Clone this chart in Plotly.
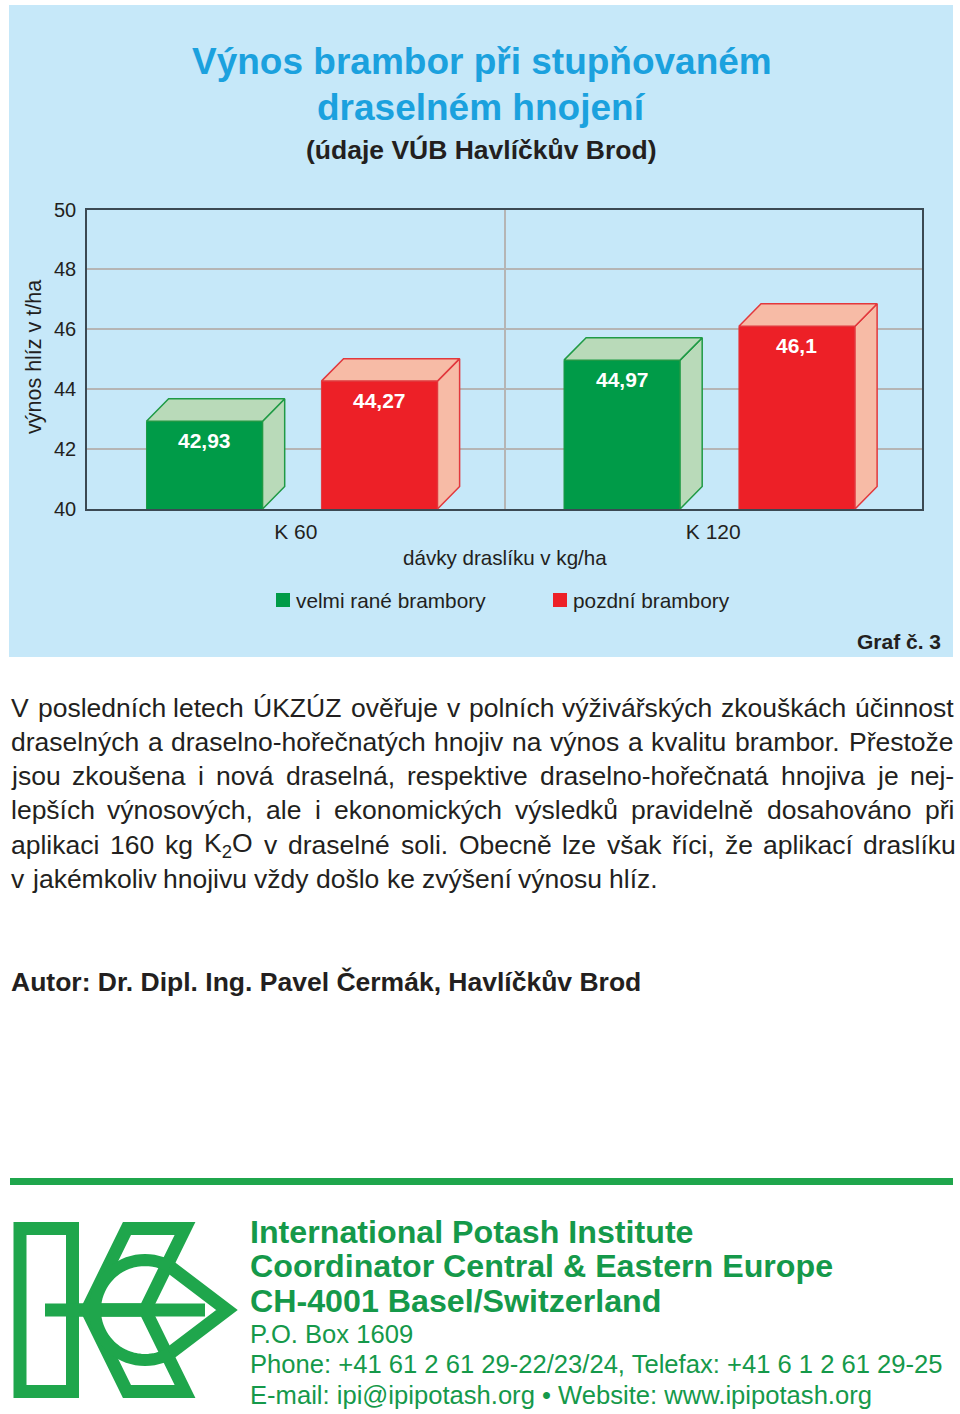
import math
import re
import unicodedata
import plotly.graph_objects as go

# ---------------- data ----------------
categories = ["K 60", "K 120"]
series_names = ["velmi rané brambory", "pozdní brambory"]
early_values = [42.93, 44.97]
late_values = [44.27, 46.1]
y_tick_values = [40, 42, 44, 46, 48, 50]

title_lines = ["Výnos brambor při stupňovaném", "draselném hnojení"]
subtitle = "(údaje VÚB Havlíčkův Brod)"
y_title = "výnos hlíz v t/ha"
x_title = "dávky draslíku v kg/ha"
graph_no = "Graf č. 3"
body_lines = [
    "V posledních letech ÚKZÚZ ověřuje v polních výživářských zkouškách účinnost",
    "draselných a draselno-hořečnatých hnojiv na výnos a kvalitu brambor. Přestože",
    "jsou zkoušena i nová draselná, respektive draselno-hořečnatá hnojiva je nej-",
    "lepších výnosových, ale i ekonomických výsledků pravidelně dosahováno při",
    "aplikaci 160 kg K<sub>2</sub>O v draselné soli. Obecně lze však říci, že aplikací draslíku",
    "v jakémkoliv hnojivu vždy došlo ke zvýšení výnosu hlíz.",
]
author = "Autor: Dr. Dipl. Ing. Pavel Čermák, Havlíčkův Brod"
footer_bold = [
    "International Potash Institute",
    "Coordinator Central & Eastern Europe",
    "CH-4001 Basel/Switzerland",
]
footer_regular = [
    "P.O. Box 1609",
    "Phone: +41 61 2 61 29-22/23/24, Telefax: +41 6 1 2 61 29-25",
    "E-mail: ipi@ipipotash.org • Website: www.ipipotash.org",
]

# ---------------- style ----------------
W, H = 960, 1414
FONT = "Liberation Sans, Arial, Helvetica, sans-serif"
DARK = "#231f20"
BLUE_BG = "#c6e8f9"
TITLE_BLUE = "#1ba1de"
GREEN = "#009b48"
GREEN_LIGHT = "#b9dab9"
GREEN_EDGE = "#1f9a45"
RED = "#ed2027"
RED_LIGHT = "#f7bba6"
RED_EDGE = "#e2383d"
LOGO_GREEN = "#1fa64c"
TEXT_GREEN = "#15994a"
GRID = "#b5b5b5"
FRAME = "#3b4953"

PL, PR, PT, PB = 87, 922, 209.5, 509  # plot area in pixels


def px(x):
    return x / W


def py(y):
    return 1 - y / H


bar_w = 0.278
inner_gap = 0.141
shift = -0.009
depth_x = 0.053
depth_y = 0.75
y_min, y_max = y_tick_values[0], y_tick_values[-1]
offsets = [-(bar_w + inner_gap / 2) + shift, inner_gap / 2 + shift]
fronts = [GREEN, RED]
lights = [GREEN_LIGHT, RED_LIGHT]
edges = [GREEN_EDGE, RED_EDGE]
all_values = [early_values, late_values]
xpos = list(range(len(categories)))

fig = go.Figure()
annotations = []
shapes = []

for s, vals in enumerate(all_values):
    fig.add_trace(go.Bar(
        x=xpos, y=vals, width=bar_w, offset=offsets[s], name=series_names[s],
        marker=dict(color=fronts[s], line=dict(color=edges[s], width=1)),
        showlegend=False, hoverinfo="y",
    ))
    sx, sy, tx, ty = [], [], [], []
    for j, v in enumerate(vals):
        xl = xpos[j] + offsets[s]
        xr = xl + bar_w
        sx += [xr, xr + depth_x, xr + depth_x, xr, xr, None]
        sy += [y_min, y_min + depth_y, v + depth_y, v, y_min, None]
        tx += [xl, xl + depth_x, xr + depth_x, xr, xl, None]
        ty += [v, v + depth_y, v + depth_y, v, v, None]
        annotations.append(dict(
            x=xl + bar_w / 2, y=v, xref="x", yref="y", yanchor="top", yshift=-6,
            text=f"{v:g}".replace(".", ","), showarrow=False,
            font=dict(family=FONT, size=21, color="white", weight="bold"),
        ))
    for fx, fy in ((sx, sy), (tx, ty)):
        fig.add_trace(go.Scatter(
            x=fx, y=fy, mode="lines", fill="toself", fillcolor=lights[s],
            line=dict(color=edges[s], width=1.5), showlegend=False, hoverinfo="skip",
        ))

# ---------------- text helpers ----------------
HELV = {
    'a': 556, 'b': 556, 'c': 500, 'd': 556, 'e': 556, 'f': 278, 'g': 556, 'h': 556,
    'i': 222, 'j': 222, 'k': 500, 'l': 222, 'm': 833, 'n': 556, 'o': 556, 'p': 556,
    'q': 556, 'r': 333, 's': 500, 't': 278, 'u': 556, 'v': 500, 'w': 722, 'x': 500,
    'y': 500, 'z': 500,
    'A': 667, 'B': 667, 'C': 722, 'D': 722, 'E': 667, 'F': 611, 'G': 778, 'H': 722,
    'I': 278, 'J': 500, 'K': 667, 'L': 556, 'M': 833, 'N': 722, 'O': 778, 'P': 667,
    'Q': 778, 'R': 722, 'S': 667, 'T': 611, 'U': 722, 'V': 667, 'W': 944, 'X': 667,
    'Y': 667, 'Z': 611,
    ' ': 278, '.': 278, ',': 278, '-': 333, ':': 278, '/': 278, '(': 333, ')': 333,
}


def char_w(ch):
    if ch in HELV:
        return HELV[ch]
    if ch.isdigit():
        return 556
    base = unicodedata.normalize("NFD", ch)[0]
    return HELV.get(base, 556)


def word_width(word, size):
    total = 0.0
    for part in re.split(r"(<sub>.*?</sub>)", word):
        if part.startswith("<sub>"):
            total += sum(char_w(c) for c in part[5:-6]) * 0.7
        else:
            total += sum(char_w(c) for c in part)
    return total * size / 1000


def text(x, y, t, size, color=DARK, bold=False, xanchor="center", angle=0):
    annotations.append(dict(
        x=px(x), y=py(y), xref="paper", yref="paper", text=t, showarrow=False,
        xanchor=xanchor, yanchor="middle", textangle=angle, borderpad=0,
        font=dict(family=FONT, size=size, color=color, weight="bold" if bold else "normal"),
    ))


# ---------------- titles and chart texts ----------------
text(482, 62, title_lines[0], 37, TITLE_BLUE, True)
text(481, 108, title_lines[1], 37, TITLE_BLUE, True)
text(481, 150, subtitle, 26.5, DARK, True)
text(34, 357, y_title, 21.5, angle=-90)
text(505, 557, x_title, 20.6)
text(942, 641, graph_no, 21, DARK, True, xanchor="right")

# custom legend
legend_items = [(276, 295), (553, 572)]
for s, (sq, tx0) in enumerate(legend_items):
    shapes.append(dict(type="rect", xref="paper", yref="paper", x0=px(sq), x1=px(sq + 14),
                       y0=py(607), y1=py(593), fillcolor=fronts[s], line=dict(width=0)))
    text(tx0, 600, series_names[s], 20.8, xanchor="left")

# ---------------- body text (justified) ----------------
BODY_SIZE = 26.5
L_EDGE, R_EDGE = 10, 953
body_y = [708, 742, 776, 810, 845, 879]
for li, line in enumerate(body_lines):
    words = line.split(" ")
    widths = [word_width(w, BODY_SIZE) for w in words]
    if li < len(body_lines) - 1 and len(words) > 1:
        gap = (R_EDGE - L_EDGE - sum(widths)) / (len(words) - 1)
    else:
        gap = 278 * BODY_SIZE / 1000
    xcur = L_EDGE
    for w, wd in zip(words, widths):
        text(xcur, body_y[li], w, BODY_SIZE, xanchor="left")
        xcur += wd + gap

text(10, 982, author, 26.5, DARK, True, xanchor="left")

# ---------------- footer ----------------
shapes.append(dict(type="rect", xref="paper", yref="paper", x0=px(10), x1=px(953),
                   y0=py(1185), y1=py(1178), fillcolor=LOGO_GREEN, line=dict(width=0)))
for i, t in enumerate(footer_bold):
    text(249, [1232, 1266, 1301][i], t, 32.2, TEXT_GREEN, True, xanchor="left")
for i, t in enumerate(footer_regular):
    text(249, [1334, 1364, 1395][i], t, 25.6, TEXT_GREEN, False, xanchor="left")


def path(points, closed=False):
    d = "M " + " L ".join(f"{px(x):.5f},{py(y):.5f}" for x, y in points)
    return d + (" Z" if closed else "")


def logo_line(points, closed=False, width=13):
    shapes.append(dict(type="path", xref="paper", yref="paper", path=path(points, closed),
                       line=dict(color=LOGO_GREEN, width=width), fillcolor="rgba(0,0,0,0)"))


# logo
shapes.append(dict(type="rect", xref="paper", yref="paper", x0=px(20), x1=px(72.5),
                   y0=py(1391.5), y1=py(1228.5), line=dict(color=LOGO_GREEN, width=13)))
logo_line([(45, 1310), (205, 1310)])
logo_line([(127, 1228.5), (185, 1228.5), (145, 1310), (87, 1310)], closed=True)
logo_line([(87, 1310), (145, 1310), (185, 1391.5), (127, 1391.5)], closed=True)
arc = [(145 + 50 * math.cos(math.radians(a)), 1310 - 50 * math.sin(math.radians(a)))
       for a in range(60, 301, 5)]
logo_line(arc, width=12)
logo_line([(170, 1266.7), (227, 1310), (170, 1353.3)])

# background panel
shapes.insert(0, dict(type="rect", xref="paper", yref="paper", x0=px(9), x1=px(953),
                      y0=py(657), y1=py(5), fillcolor=BLUE_BG, line=dict(width=0), layer="below"))

fig.update_layout(
    width=W, height=H, autosize=False,
    margin=dict(l=0, r=0, t=0, b=0, pad=0, autoexpand=False),
    paper_bgcolor="white", plot_bgcolor="white",
    font=dict(family=FONT, color=DARK),
    showlegend=False,
    annotations=annotations, shapes=shapes,
    xaxis=dict(
        domain=[px(PL), px(PR)], range=[-0.5, 1.5], tickvals=xpos, ticktext=categories,
        showgrid=False, zeroline=False, automargin=False,
        minor=dict(tickvals=[0.5], showgrid=True, gridcolor=GRID, gridwidth=1.5, ticks=""),
        showline=True, linecolor=FRAME, linewidth=1.5, mirror=True,
        ticks="outside", ticklen=3, tickcolor="rgba(0,0,0,0)",
        tickfont=dict(family=FONT, size=21, color=DARK), fixedrange=True,
    ),
    yaxis=dict(
        domain=[py(PB), py(PT)], range=[y_min, y_max], tickvals=y_tick_values,
        showgrid=True, gridcolor=GRID, gridwidth=1.5, zeroline=False, automargin=False,
        showline=True, linecolor=FRAME, linewidth=1.5, mirror=True,
        ticks="outside", ticklen=5, tickcolor="rgba(0,0,0,0)",
        tickfont=dict(family=FONT, size=20, color=DARK), fixedrange=True,
    ),
)

fig.write_html("out.html")
